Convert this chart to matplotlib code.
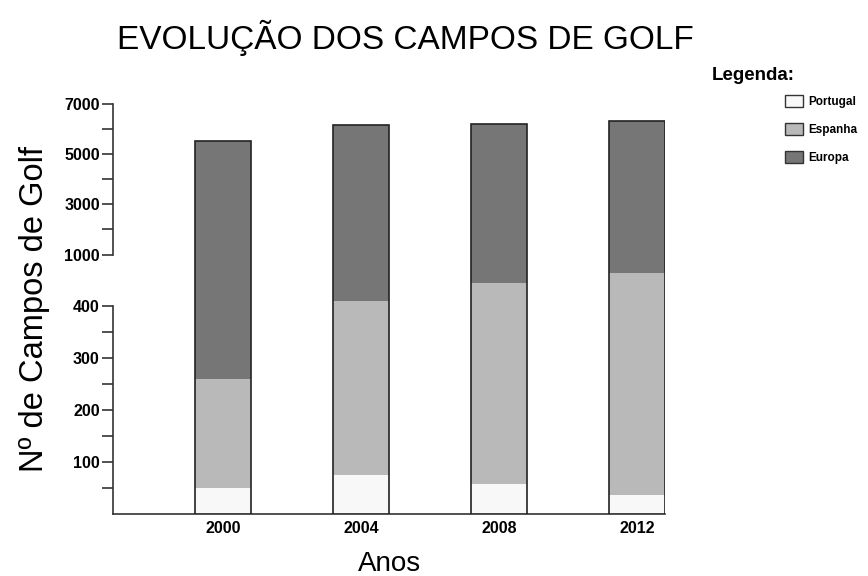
import numpy as np
from matplotlib import pyplot as plt
from matplotlib.patches import Patch

plt.rcParams.update({"font.family": ["Liberation Sans", "DejaVu Sans"]})

# data
anos = ["2000", "2004", "2008", "2012"]
portugal = [51, 76, 57, 37]
espanha = [260, 411, 446, 465]
europa = [5520, 6170, 6210, 6330]

major_ticks = [100, 200, 300, 400, 1000, 3000, 5000, 7000]
minor_ticks = [50, 150, 250, 350, 2000, 4000, 6000]

colors = {"Portugal": "#f8f8f8", "Espanha": "#b9b9b9", "Europa": "#767676"}

# broken axis: linear 0-480, squeezed gap up to 1000, compressed above
data_pts = [-1000, 0, 480, 1000, 7000, 20000]
scale_pts = [-1000, 0, 480, 500, 790, 790 + 13000 * 0.0483]


def forward(v):
    return np.interp(v, data_pts, scale_pts)


def inverse(t):
    return np.interp(t, scale_pts, data_pts)


fig = plt.figure(figsize=(8.68, 5.76), dpi=100)
ax = fig.add_axes([113 / 868, 1 - 514 / 576, (665 - 113) / 868, (514 - 104) / 576])
ax.set_yscale("function", functions=(forward, inverse))

x = np.arange(len(anos))
w = 0.405
ax.bar(x, europa, w, color=colors["Europa"], linewidth=0, zorder=1)
ax.bar(x, espanha, w, color=colors["Espanha"], linewidth=0, zorder=2)
ax.bar(x, portugal, w, color=colors["Portugal"], linewidth=0, zorder=3)
ax.bar(x, europa, w, fill=False, edgecolor="#222222", linewidth=1.2, zorder=4)

ax.set_xlim(-0.8, 3.2)
ax.set_ylim(0, 7000)

ax.set_yticks(major_ticks)
ax.set_yticklabels([str(t) for t in major_ticks], fontweight="bold", fontsize=11.5)
ax.set_yticks(minor_ticks, minor=True)
ax.tick_params(axis="y", which="both", length=8, width=1.2, pad=1.5, color="#333333")
ax.set_xticks(x)
ax.set_xticklabels(anos, fontweight="bold", fontsize=11.5)
ax.tick_params(axis="x", length=0, pad=5)

for s in ["top", "right"]:
    ax.spines[s].set_visible(False)
ax.spines["left"].set_bounds(0, 400)
ax.spines["left"].set_linewidth(1.2)
ax.spines["left"].set_color("#333333")
ax.spines["bottom"].set_linewidth(1.2)
ax.spines["bottom"].set_color("#333333")
ax.plot([0, 0], [1000, 7000], transform=ax.get_yaxis_transform(),
        color="#333333", linewidth=1.2, clip_on=False)

ax.set_ylabel("Nº de Campos de Golf", fontsize=23.5, labelpad=10)
ax.set_xlabel("Anos", fontsize=20, labelpad=11)
fig.text(405 / 868, 1 - 38 / 576, "EVOLUÇÃO DOS CAMPOS DE GOLF",
         fontsize=24, ha="center", va="center")

fig.text(712 / 868, 1 - 75 / 576, "Legenda:", fontsize=13.5, fontweight="bold",
         va="center")
handles = [Patch(facecolor=colors[k], edgecolor="#333333", linewidth=1) for k in colors]
fig.legend(handles, list(colors), loc="upper left",
           bbox_to_anchor=(785 / 868, 1 - 95 / 576), frameon=False,
           prop={"size": 8.5, "weight": "bold"}, handlelength=1.55,
           handleheight=1.15, labelspacing=1.3, handletextpad=0.4, borderpad=0,
           borderaxespad=0)

fig.savefig("out.png", dpi=100)
